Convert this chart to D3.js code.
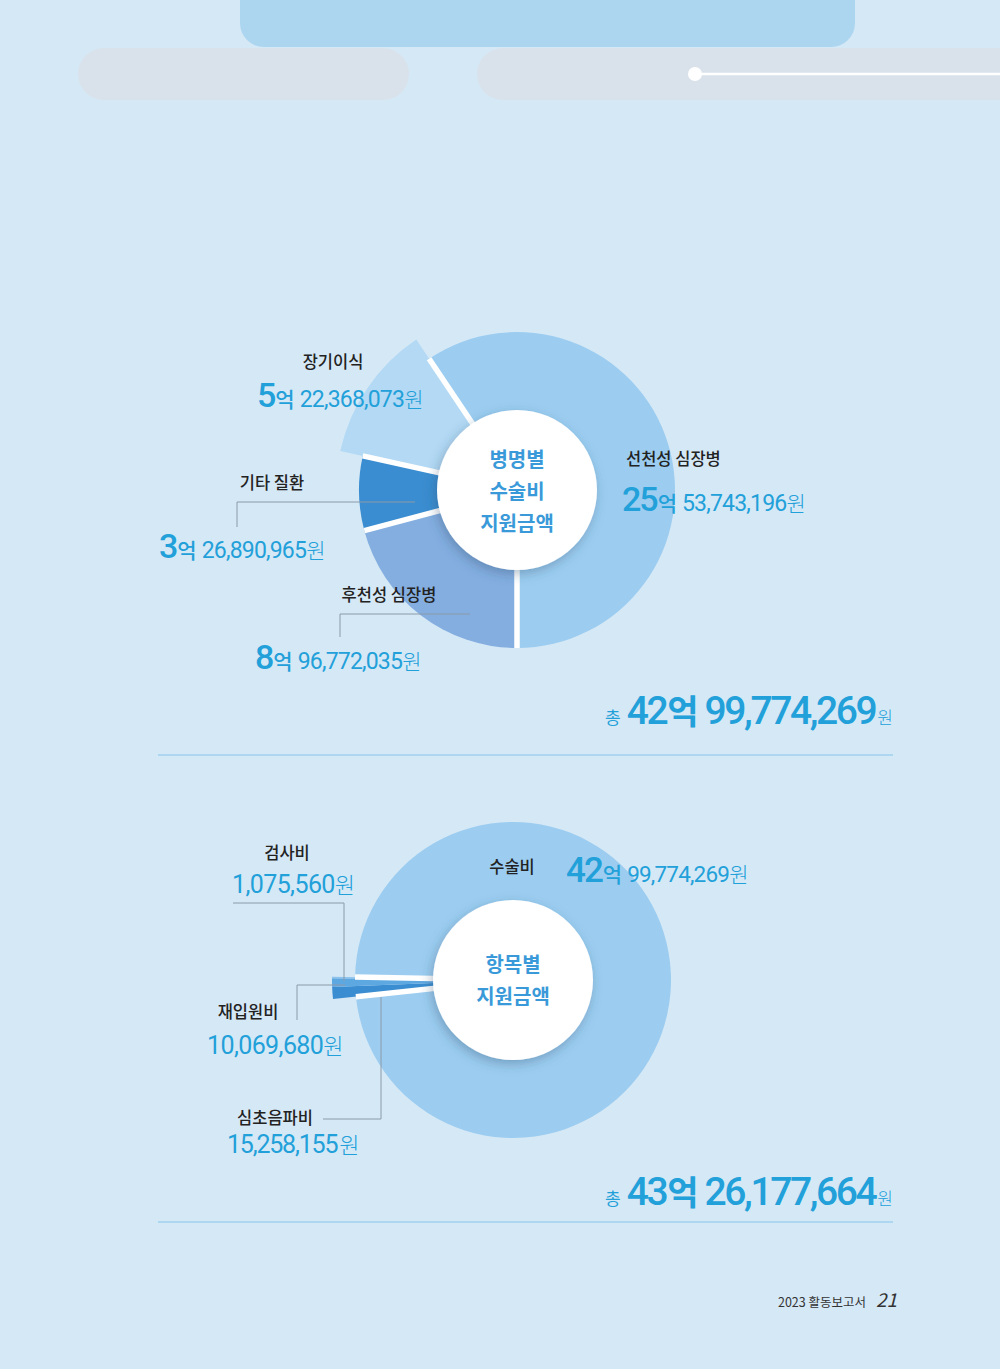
<!DOCTYPE html>
<html><head><meta charset="utf-8">
<script src="https://cdn.jsdelivr.net/npm/d3@7"></script>
<style>
html,body{margin:0;padding:0;background:#d5e8f6;}
svg{display:block;}
text{font-family:"Noto Sans CJK KR","Noto Sans",sans-serif;}
</style></head>
<body>
<script>
// ---- data ----
const diseaseCats = ["선천성 심장병", "후천성 심장병", "기타 질환", "장기이식"];
const diseaseValues = [2553743196, 896772035, 326890965, 522368073];
const itemCats = ["수술비", "심초음파비", "재입원비", "검사비"];
const itemValues = [4299774269, 15258155, 10069680, 1075560];
const centerTitle1 = ["병명별", "수술비", "지원금액"];
const centerTitle2 = ["항목별", "지원금액"];
const footerText = "2023 활동보고서";
const pageNo = "21";

const W = 1000, H = 1369;
const svg = d3.select("body").append("svg").attr("width", W).attr("height", H);
svg.append("rect").attr("width", W).attr("height", H).attr("fill", "#d5e8f6");

const defs = svg.append("defs");
const f = defs.append("filter").attr("id", "sh").attr("x", "-30%").attr("y", "-30%").attr("width", "160%").attr("height", "160%");
f.append("feDropShadow").attr("dx", -2).attr("dy", 4).attr("stdDeviation", 6).attr("flood-color", "#2a4a6a").attr("flood-opacity", 0.35);

// ---- top decoration ----
svg.append("rect").attr("x", 240).attr("y", -30).attr("width", 615).attr("height", 77).attr("rx", 24).attr("fill", "#acd5f0");
svg.append("rect").attr("x", 78).attr("y", 48).attr("width", 331).attr("height", 52).attr("rx", 26).attr("fill", "#d9e2eb");
svg.append("rect").attr("x", 477).attr("y", 48).attr("width", 560).attr("height", 52).attr("rx", 26).attr("fill", "#d9e2eb");
svg.append("line").attr("x1", 695).attr("x2", 1000).attr("y1", 74).attr("y2", 74).attr("stroke", "#fff").attr("stroke-width", 2.5);
svg.append("circle").attr("cx", 695).attr("cy", 74).attr("r", 7).attr("fill", "#fff");

const BLUE = "#22a0d9", DARK = "#222", LEAD = "#8a9aa8";
const R = 158, RX = 181, RIN = 80;

function fmtParts(v) {
  const eok = Math.floor(v / 1e8);
  const rest = v % 1e8;
  return { eok, rest: d3.format(",")(rest) };
}

function donut(cx, cy, cats, values, colors, exploded, startAngleFn, valueFn, titles, titleY0) {
  const g = svg.append("g").attr("transform", `translate(${cx},${cy})`);
  const pie = d3.pie().sort(null).value((d, i) => valueFn(values[i]));
  const total = d3.sum(values.map(valueFn));
  const s0 = startAngleFn(valueFn(values[0]) / total);
  pie.startAngle(s0).endAngle(s0 + 2 * Math.PI);
  const arcs = pie(cats);
  const radius = i => exploded.includes(i) ? RX : R;
  g.selectAll("path.sl").data(arcs).join("path").attr("class", "sl")
    .attr("d", (d, i) => d3.arc().innerRadius(0).outerRadius(radius(i))(d))
    .attr("fill", (d, i) => colors[i]);
  // white separators
  arcs.forEach((d, i) => {
    const prev = (i - 1 + arcs.length) % arcs.length;
    if (exploded.includes(i) && exploded.includes(prev)) return;
    const r = Math.min(radius(i), radius(prev));
    const a = d.startAngle;
    g.append("line").attr("x1", 0).attr("y1", 0)
      .attr("x2", r * Math.sin(a)).attr("y2", -r * Math.cos(a))
      .attr("stroke", "#fff").attr("stroke-width", 5.5);
  });
  g.append("circle").attr("r", RIN).attr("fill", "#fff").attr("filter", "url(#sh)");
  g.append("text").attr("text-anchor", "middle").attr("fill", "#3a9ad9")
    .attr("font-size", 20).attr("font-weight", 700)
    .selectAll("tspan").data(titles).join("tspan")
    .attr("x", 0).attr("y", (d, i) => titleY0 + i * 32).text(d => d);
  return g;
}

// ---- chart 1 ----
donut(517, 490, diseaseCats, diseaseValues, ["#9ccdf0", "#84aee0", "#3a8dd0", "#b3d9f4"], [3],
  share0 => Math.PI - 2 * Math.PI * share0, v => v, centerTitle1, -23);

// ---- chart 2 ----
const powScale = d3.scalePow().exponent(0.8).domain([0, 1]).range([0, 1]);
const midSmall = 267.5 * Math.PI / 180;
donut(513, 980, itemCats, itemValues, ["#9ccdf0", "#3a8dd0", "#5ea8e2", "#8cc2ec"], [1, 2, 3],
  share0 => { const S = 2 * Math.PI * (1 - share0); return midSmall + S / 2 - 2 * Math.PI; },
  v => powScale(v / 1e9), centerTitle2, -8);

// ---- labels ----
function catLabel(x, y, t, anchor) {
  svg.append("text").attr("x", x).attr("y", y).attr("text-anchor", anchor || "middle")
    .attr("fill", DARK).attr("font-size", 16.5).attr("font-weight", 500).text(t);
}
function moneyLabel(x, y, v, opt) {
  opt = opt || {};
  const big = opt.big || 34, mid = opt.mid || 21, num = opt.num || 23, won = opt.won || 21;
  const p = fmtParts(v);
  const t = svg.append("text").attr("x", x).attr("y", y).attr("fill", BLUE);
  if (p.eok > 0) {
    t.append("tspan").attr("font-family", "Roboto,'Noto Sans',sans-serif").attr("font-weight", 500)
      .attr("font-size", big).attr("letter-spacing", -2).text(p.eok);
    t.append("tspan").attr("font-size", mid).attr("font-weight", 500).attr("dx", 1).text("억");
    t.append("tspan").attr("font-family", "Roboto,'Noto Sans',sans-serif").attr("font-weight", 400)
      .attr("font-size", num).attr("letter-spacing", opt.ls == null ? -0.8 : opt.ls).attr("dx", 5).text(p.rest);
  } else {
    t.append("tspan").attr("font-family", "Roboto,'Noto Sans',sans-serif").attr("font-weight", 400)
      .attr("font-size", num).attr("letter-spacing", opt.ls == null ? -0.8 : opt.ls).text(d3.format(",")(v));
  }
  t.append("tspan").attr("font-size", won).attr("font-weight", 300).attr("dx", opt.wonGap || 0).text("원");
}
function leader(pts) {
  svg.append("path").attr("d", d3.line()(pts)).attr("fill", "none").attr("stroke", LEAD).attr("stroke-width", 1);
}

// chart 1 labels
catLabel(333, 368, diseaseCats[3]);
moneyLabel(257, 407, diseaseValues[3]);
catLabel(272, 489, diseaseCats[2]);
leader([[237, 527], [237, 502], [415, 502]]);
moneyLabel(159, 558, diseaseValues[2]);
catLabel(389, 601, diseaseCats[1]);
leader([[340, 637], [340, 614], [470, 614]]);
moneyLabel(255, 669, diseaseValues[1]);
catLabel(626, 465, diseaseCats[0], "start");
moneyLabel(622, 511, diseaseValues[0]);

// totals
function totalLabel(xEnd, y, v) {
  const p = fmtParts(v);
  const t = svg.append("text").attr("x", xEnd).attr("y", y).attr("text-anchor", "end").attr("fill", BLUE);
  t.append("tspan").attr("font-size", 17).attr("font-weight", 400).text("총");
  t.append("tspan").attr("font-family", "Roboto,'Noto Sans',sans-serif").attr("font-size", 39).attr("font-weight", 500)
    .attr("letter-spacing", -2.4).attr("dx", 6).text(p.eok);
  t.append("tspan").attr("font-size", 34).attr("font-weight", 700).attr("dx", 1).text("억");
  t.append("tspan").attr("font-family", "Roboto,'Noto Sans',sans-serif").attr("font-size", 39).attr("font-weight", 500)
    .attr("letter-spacing", -2.4).attr("dx", 6).text(p.rest);
  t.append("tspan").attr("font-size", 17).attr("font-weight", 300).attr("dx", 2).text("원");
}
totalLabel(893, 724, d3.sum(diseaseValues));
svg.append("line").attr("x1", 158).attr("x2", 893).attr("y1", 755).attr("y2", 755).attr("stroke", "#9fd0ee").attr("stroke-width", 1.5);

// chart 2 labels
catLabel(287, 859, itemCats[3]);
moneyLabel(232, 893, itemValues[3], { num: 25, ls: -0.6, won: 22 });
leader([[233, 903], [344, 903], [344, 981]]);
catLabel(248, 1018, itemCats[2]);
leader([[297, 1020], [297, 985], [345, 985]]);
moneyLabel(207, 1054, itemValues[2], { num: 25, ls: -0.6, won: 22 });
catLabel(275, 1124, itemCats[1]);
leader([[323, 1119], [381, 1119], [381, 997]]);
moneyLabel(227, 1153, itemValues[1], { num: 25, ls: -1.2, won: 22, wonGap: 2 });
catLabel(512, 873, itemCats[0]);
moneyLabel(566, 882, itemValues[0], { big: 35, mid: 21, num: 22.5 });

totalLabel(893, 1205, d3.sum(itemValues));
svg.append("line").attr("x1", 158).attr("x2", 893).attr("y1", 1222).attr("y2", 1222).attr("stroke", "#9fd0ee").attr("stroke-width", 1.5);

// footer
svg.append("text").attr("x", 866).attr("y", 1307).attr("text-anchor", "end").attr("fill", "#333")
  .attr("font-size", 12.5).text(footerText);
svg.append("text").attr("x", 876).attr("y", 1307).attr("fill", "#333").attr("font-family", "'Liberation Serif',serif")
  .attr("font-style", "italic").attr("font-size", 19).text(pageNo);
</script>
</body></html>
